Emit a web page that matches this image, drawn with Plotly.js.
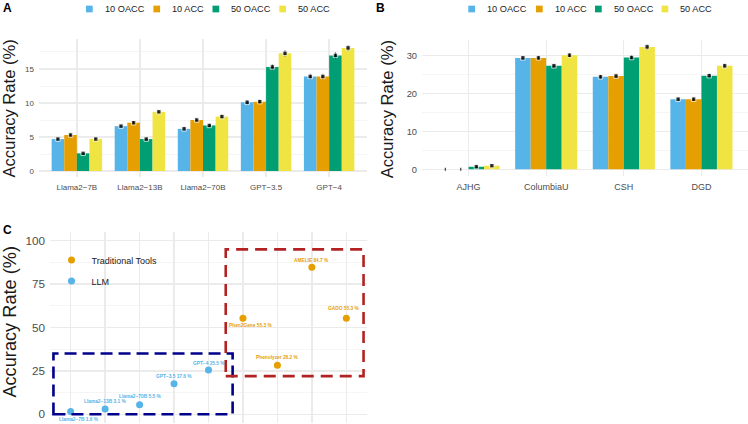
<!DOCTYPE html>
<html>
<head>
<meta charset="utf-8">
<script src="https://cdn.plot.ly/plotly-3.0.1.min.js"></script>
<style>html,body{margin:0;padding:0;background:#fff;}#chart{width:748px;height:424px;}</style>
</head>
<body>
<div id="chart"></div>
<script>
// ---------- Data ----------
const seriesNames = ['10 OACC', '10 ACC', '50 OACC', '50 ACC'];

// Panel A: models
const modelsA = ['Llama2\u22127B', 'Llama2\u221213B', 'Llama2\u221270B', 'GPT\u22123.5', 'GPT\u22124'];
const a10OACC = [4.7, 6.6, 6.2, 10.1, 13.9];
const a10ACC  = [5.3, 7.1, 7.5, 10.2, 13.9];
const a50OACC = [2.6, 4.7, 6.7, 15.3, 17.0];
const a50ACC  = [4.7, 8.7, 8.0, 17.3, 18.1];
const a10OACCerr = [0.2, 0.2, 0.3, 0.35, 0.4];
const a10ACCerr  = [0.2, 0.25, 0.2, 0.3, 0.4];
const a50OACCerr = [0.15, 0.2, 0.25, 0.4, 0.45];
const a50ACCerr  = [0.2, 0.2, 0.3, 0.45, 0.4];

// Panel B: sources
const sourcesB = ['AJHG', 'ColumbiaU', 'CSH', 'DGD'];
const b10OACC = [0, 29.4, 24.4, 18.5];
const b10ACC  = [0, 29.4, 24.6, 18.5];
const b50OACC = [0.7, 27.3, 29.5, 24.7];
const b50ACC  = [0.95, 30.1, 32.3, 27.3];
const b10OACCerr = [0.4, 0.6, 0.5, 0.5];
const b10ACCerr  = [0.4, 0.6, 0.6, 0.5];
const b50OACCerr = [0.3, 0.6, 0.6, 0.6];
const b50ACCerr  = [0.3, 0.6, 0.7, 0.6];

// Panel C: tools
const toolOrderC = ['Llama2\u22127B', 'Llama2\u221213B', 'Llama2\u221270B', 'GPT\u22123.5', 'GPT\u22124', 'Phen2Gene', 'Phenolyzer', 'AMELIE', 'GADO'];
const tradTools = ['Phen2Gene', 'Phenolyzer', 'AMELIE', 'GADO'];
const tradVals  = [55.3, 28.2, 84.7, 55.3];
const llmTools  = ['Llama2\u22127B', 'Llama2\u221213B', 'Llama2\u221270B', 'GPT\u22123.5', 'GPT\u22124'];
const llmVals   = [1.6, 3.1, 5.5, 17.6, 25.5];
// highlight boxes [x0, x1, y0, y1] in axis units (category index / %)
const llmBox  = [-0.5, 4.7, 0, 35];
const tradBox = [4.5, 8.5, 22, 95];

// ---------- Styles ----------
const colors = ['#56B4E9', '#E69F00', '#009E73', '#F0E442'];
const FONT = '"Liberation Sans", Arial, Helvetica, sans-serif';
const tickGray = '#4D4D4D';
const gridMajor = '#EBEBEB';
const gridMinor = '#F3F3F3';
// label shifts (px) for panel C text labels
const llmShift  = [[8, -8], [0, 7], [0, 8], [0, 7], [0, 7]];
const tradShift = [[8, -7], [0, 7.5], [0, 7], [-3, 9.5]];
// legend key left edges (px) for panels A and B (top legends)
const legendKeysA = [86, 153.4, 212.5, 279.3];
const legendKeysB = [468.3, 536, 595, 661.6];
const KEY = 6.7, KEY_GAP = 10, LEGEND_Y = 9;

const traces = [];
function addBars(cats, vals, errs, xa, ya) {
  vals.forEach((v, i) => {
    traces.push({
      type: 'bar', x: cats, y: v, xaxis: xa, yaxis: ya, name: seriesNames[i],
      marker: {color: colors[i], line: {width: 0}},
      offsetgroup: 'g' + i, showlegend: false, hoverinfo: 'skip'
    });
  });
  vals.forEach((v, i) => {
    traces.push({
      type: 'scatter', mode: 'markers', x: cats, y: v, xaxis: xa, yaxis: ya,
      marker: {color: '#000', symbol: 'square', size: v.map(d => d > 0 ? 4.5 : 0)},
      error_y: {type: 'data', array: errs[i], color: '#000', thickness: 0.9, width: 0},
      offsetgroup: 'g' + i, showlegend: false, hoverinfo: 'skip'
    });
  });
}
addBars(modelsA, [a10OACC, a10ACC, a50OACC, a50ACC], [a10OACCerr, a10ACCerr, a50OACCerr, a50ACCerr], 'x', 'y');
addBars(sourcesB, [b10OACC, b10ACC, b50OACC, b50ACC], [b10OACCerr, b10ACCerr, b50OACCerr, b50ACCerr], 'x2', 'y2');

traces.push({
  type: 'scatter', mode: 'markers', x: tradTools, y: tradVals, xaxis: 'x3', yaxis: 'y3',
  name: 'Traditional Tools', legend: 'legend', legendgroup: 't',
  marker: {color: '#E69F00', size: 7}, offsetgroup: 'c'
});
traces.push({
  type: 'scatter', mode: 'markers', x: llmTools, y: llmVals, xaxis: 'x3', yaxis: 'y3',
  name: 'LLM', legend: 'legend', legendgroup: 'l',
  marker: {color: '#56B4E9', size: 7}, offsetgroup: 'c'
});

const W = 748, H = 424;
const px = v => v / W;
const py = v => 1 - v / H;

function yAxis(domain, range, dtick, fs, anchor) {
  return {
    domain: domain, range: range, dtick: dtick, tick0: 0, anchor: anchor,
    showgrid: true, gridcolor: gridMajor, gridwidth: 1.3,
    minor: {dtick: dtick / 2, tick0: 0, showgrid: true, gridcolor: gridMinor, gridwidth: 0.8},
    zeroline: false, showline: false, ticks: '',
    tickfont: {family: FONT, size: fs, color: tickGray},
    ticklabelstandoff: 4, automargin: false, fixedrange: true
  };
}
function xAxis(domain, range, fs, cats, show, anchor) {
  return {
    domain: domain, range: range, type: 'category', anchor: anchor,
    categoryorder: 'array', categoryarray: cats,
    showgrid: true, gridcolor: gridMajor, gridwidth: 1.3,
    zeroline: false, showline: false, ticks: '', showticklabels: show,
    tickfont: {family: FONT, size: fs, color: tickGray},
    ticklabelstandoff: 4, automargin: false, fixedrange: true
  };
}

const annotations = [];
const shapes = [];
function panelLabel(t, x, y) {
  annotations.push({text: '<b>' + t + '</b>', xref: 'paper', yref: 'paper', x: px(x), y: py(y),
    xanchor: 'left', yanchor: 'middle', showarrow: false, font: {family: FONT, size: 12, color: '#000'}});
}
panelLabel('A', 0.5, 7.5);
panelLabel('B', 374.5, 7.5);
panelLabel('C', 0.5, 229.5);
function yTitle(x, y, fs) {
  annotations.push({text: 'Accuracy Rate (%)', xref: 'paper', yref: 'paper', x: px(x), y: py(y),
    xanchor: 'center', yanchor: 'middle', textangle: -90, showarrow: false,
    font: {family: FONT, size: fs, color: '#1a1a1a'}});
}
yTitle(9.5, 109, 16.6);
yTitle(388.3, 109, 16.6);
yTitle(9.6, 322, 18.2);

// top legends for panels A and B (keys + labels)
function topLegend(keys) {
  keys.forEach((k, i) => {
    shapes.push({type: 'rect', xref: 'paper', yref: 'paper',
      x0: px(k), x1: px(k + KEY), y0: py(LEGEND_Y + KEY / 2), y1: py(LEGEND_Y - KEY / 2),
      fillcolor: colors[i], line: {width: 0}});
    annotations.push({text: seriesNames[i], xref: 'paper', yref: 'paper',
      x: px(k + KEY + KEY_GAP), y: py(LEGEND_Y), xanchor: 'left', yanchor: 'middle',
      showarrow: false, font: {family: FONT, size: 9.2, color: '#222'}});
  });
}
topLegend(legendKeysA);
topLegend(legendKeysB);

function pointLabels(names, vals, shifts, color) {
  names.forEach((n, i) => {
    annotations.push({text: n + ' ' + vals[i] + ' %', x: n, y: vals[i], xref: 'x3', yref: 'y3',
      xshift: shifts[i][0], yshift: shifts[i][1], showarrow: false,
      font: {family: FONT, size: 4.8, color: color, weight: 'bold'}});
  });
}
pointLabels(llmTools, llmVals, llmShift, '#56B4E9');
pointLabels(tradTools, tradVals, tradShift, '#E69F00');

function box(b, color, dash) {
  return {type: 'rect', xref: 'x3', yref: 'y3', x0: b[0], x1: b[1], y0: b[2], y1: b[3],
    line: {color: color, width: 2.6, dash: dash}, fillcolor: 'rgba(0,0,0,0)', layer: 'above'};
}
shapes.push(box(llmBox, '#00008B', '12px,6px'));
shapes.push(box(tradBox, '#B22222', '12px,7px'));

const layout = {
  width: W, height: H,
  margin: {l: 0, r: 0, t: 0, b: 0, pad: 0},
  paper_bgcolor: '#fff', plot_bgcolor: '#fff',
  font: {family: FONT},
  barmode: 'group', bargap: 0.2, bargroupgap: 0,
  scattermode: 'group', scattergap: 0.2,
  showlegend: true,
  xaxis: xAxis([px(39), px(367)], [-0.6, 4.6], 8, modelsA, true, 'y'),
  yaxis: yAxis([py(177), py(39)], [-0.88, 19.41], 5, 8, 'x'),
  xaxis2: xAxis([px(422), px(748)], [-0.6, 3.6], 9, sourcesB, true, 'y2'),
  yaxis2: yAxis([py(175.5), py(39.7)], [-1.64, 34.2], 10, 9.3, 'x2'),
  xaxis3: xAxis([px(50), px(367)], [-0.6, 8.6], 9, toolOrderC, false, 'y3'),
  yaxis3: yAxis([py(423), py(232)], [-5, 105], 25, 11.7, 'x3'),
  legend: {orientation: 'v', x: px(51.5), xanchor: 'left', y: py(270.5), yanchor: 'middle',
    font: {family: FONT, size: 9, color: '#222'}, itemwidth: 30, bgcolor: 'rgba(0,0,0,0)',
    traceorder: 'grouped', tracegroupgap: 2},
  annotations: annotations,
  shapes: shapes
};

Plotly.newPlot('chart', traces, layout, {staticPlot: true, displayModeBar: false});
</script>
</body>
</html>
